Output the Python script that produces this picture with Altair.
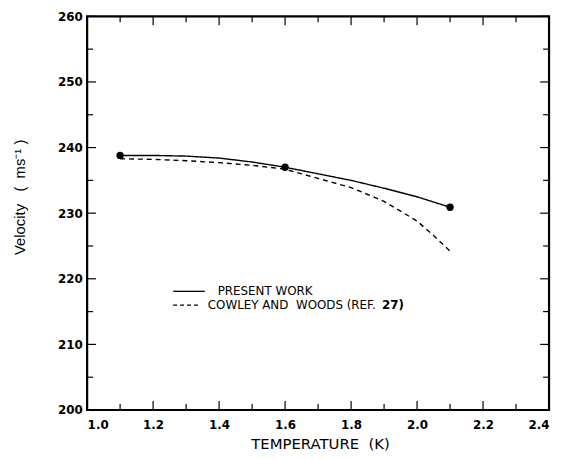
import altair as alt
import pandas as pd

# Present work (solid) curve
present_T = [1.1, 1.2, 1.3, 1.4, 1.5, 1.6, 1.7, 1.8, 1.9, 2.0, 2.1]
present_V = [238.8, 238.8, 238.7, 238.4, 237.8, 237.0, 236.0, 235.0, 233.8, 232.5, 230.9]

# Cowley and Woods (dashed) curve
cowley_T = [1.1, 1.2, 1.3, 1.4, 1.5, 1.6, 1.7, 1.8, 1.9, 2.0, 2.05, 2.1]
cowley_V = [238.3, 238.2, 238.0, 237.7, 237.3, 236.7, 235.3, 233.9, 231.8, 228.8, 226.6, 224.2]

# Measured points
points_T = [1.1, 1.6, 2.1]
points_V = [238.8, 237.0, 230.9]

series_names = ["PRESENT WORK", "COWLEY AND WOODS (REF. 27)"]

x_major = [1.0, 1.2, 1.4, 1.6, 1.8, 2.0, 2.2, 2.4]
x_minor = [1.1, 1.3, 1.5, 1.7, 1.9, 2.1, 2.3]
y_major = [200, 210, 220, 230, 240, 250, 260]
y_minor = [205, 215, 225, 235, 245, 255]

W, H = 467, 398
FONT = "DejaVu Sans"
NB = "\u00a0"

lines_df = pd.concat([
    pd.DataFrame({"T": present_T, "V": present_V, "series": series_names[0], "order": range(len(present_T))}),
    pd.DataFrame({"T": cowley_T, "V": cowley_V, "series": series_names[1], "order": range(len(cowley_T))}),
])
pts_df = pd.DataFrame({"T": points_T, "V": points_V})

xs = alt.Scale(domain=[1.0, 2.4], nice=False, zero=False)
ys = alt.Scale(domain=[200, 260], nice=False, zero=False)

x_axis = alt.Axis(
    values=x_major, format=".1f", tickSize=0, domain=False, grid=False,
    labelFont=FONT, labelFontSize=12, labelFontWeight="bold", labelColor="black",
    labelPadding=10, title="TEMPERATURE" + NB + " (K)", titleFont=FONT, titleFontSize=15,
    titleFontWeight="normal", titleColor="black", titleX=W / 2 + 2, titleY=38.5,
    titleBaseline="alphabetic", titleAlign="center")
y_axis = alt.Axis(
    values=y_major, format="d", tickSize=0, domain=False, grid=False,
    labelFont=FONT, labelFontSize=12, labelFontWeight="bold", labelColor="black",
    labelPadding=5, title="Velocity" + NB * 3 + "(" + NB * 2 + "ms⁻¹" + NB + ")",
    titleFont="Liberation Sans", titleFontSize=15,
    titleFontWeight="normal", titleColor="black", titleAngle=270, titleX=-63, titleY=182.5,
    titleBaseline="alphabetic", titleAlign="center")

lines = alt.Chart(lines_df).mark_line(color="black", strokeWidth=1.4).encode(
    x=alt.X("T:Q", scale=xs, axis=x_axis),
    y=alt.Y("V:Q", scale=ys, axis=y_axis),
    strokeDash=alt.StrokeDash("series:N", scale=alt.Scale(domain=series_names, range=[[1, 0], [5, 4]]),
                              legend=None),
    order="order:Q",
)

dots = alt.Chart(pts_df).mark_circle(color="black", size=55, opacity=1).encode(
    x=alt.X("T:Q", scale=xs, axis=x_axis),
    y=alt.Y("V:Q", scale=ys, axis=y_axis),
)

def xticks(vals, length):
    df = pd.DataFrame({"t": vals})
    bottom = alt.Chart(df).mark_rule(color="black", strokeWidth=1.2).encode(
        x=alt.X("t:Q", scale=xs, axis=x_axis), y=alt.value(H), y2=alt.value(H - length))
    top = alt.Chart(df).mark_rule(color="black", strokeWidth=1.2).encode(
        x=alt.X("t:Q", scale=xs, axis=x_axis), y=alt.value(0), y2=alt.value(length))
    return [bottom, top]

def yticks(vals, length):
    df = pd.DataFrame({"v": vals})
    left = alt.Chart(df).mark_rule(color="black", strokeWidth=1.2).encode(
        y=alt.Y("v:Q", scale=ys, axis=y_axis), x=alt.value(0), x2=alt.value(length))
    right = alt.Chart(df).mark_rule(color="black", strokeWidth=1.2).encode(
        y=alt.Y("v:Q", scale=ys, axis=y_axis), x=alt.value(W), x2=alt.value(W - length))
    return [left, right]

tick_layers = xticks(x_major, 9) + xticks(x_minor, 6) + yticks(y_major, 9) + yticks(y_minor, 6)

frame = alt.Chart(pd.DataFrame({"f": [0]})).mark_rect(
    fill=None, stroke="black", strokeWidth=2.2
).encode(x=alt.value(0), x2=alt.value(W), y=alt.value(0), y2=alt.value(H))

# Hand-drawn key (as in the original figure)
one = pd.DataFrame({"f": [0]})
key_solid = alt.Chart(one).mark_rule(color="black", strokeWidth=1.3).encode(
    x=alt.value(87), x2=alt.value(119), y=alt.value(278))
key_dash = alt.Chart(one).mark_rule(color="black", strokeWidth=1.3, strokeDash=[4, 3]).encode(
    x=alt.value(87), x2=alt.value(115), y=alt.value(292))
key_txt1 = alt.Chart(one).mark_text(
    text="PRESENT WORK", font=FONT, fontSize=12, align="left", baseline="middle", color="black"
).encode(x=alt.value(132), y=alt.value(278))
key_txt2 = alt.Chart(one).mark_text(
    text="COWLEY AND" + NB * 2 + "WOODS (REF.", font=FONT, fontSize=12, align="left",
    baseline="middle", color="black"
).encode(x=alt.value(122), y=alt.value(292))
key_txt3 = alt.Chart(one).mark_text(
    text="27)", font=FONT, fontSize=12, fontWeight="bold", align="left", baseline="middle", color="black"
).encode(x=alt.value(298), y=alt.value(292))

chart = alt.layer(lines, dots, *tick_layers, frame,
                  key_solid, key_dash, key_txt1, key_txt2, key_txt3).properties(
    width=W, height=H,
    autosize=alt.AutoSizeParams(type="none"),
    padding={"left": 80, "top": 6, "right": 4, "bottom": 39},
).configure_view(stroke=None).configure(background="white")

chart.save("out.html", embed_options={"renderer": "svg", "actions": False})
